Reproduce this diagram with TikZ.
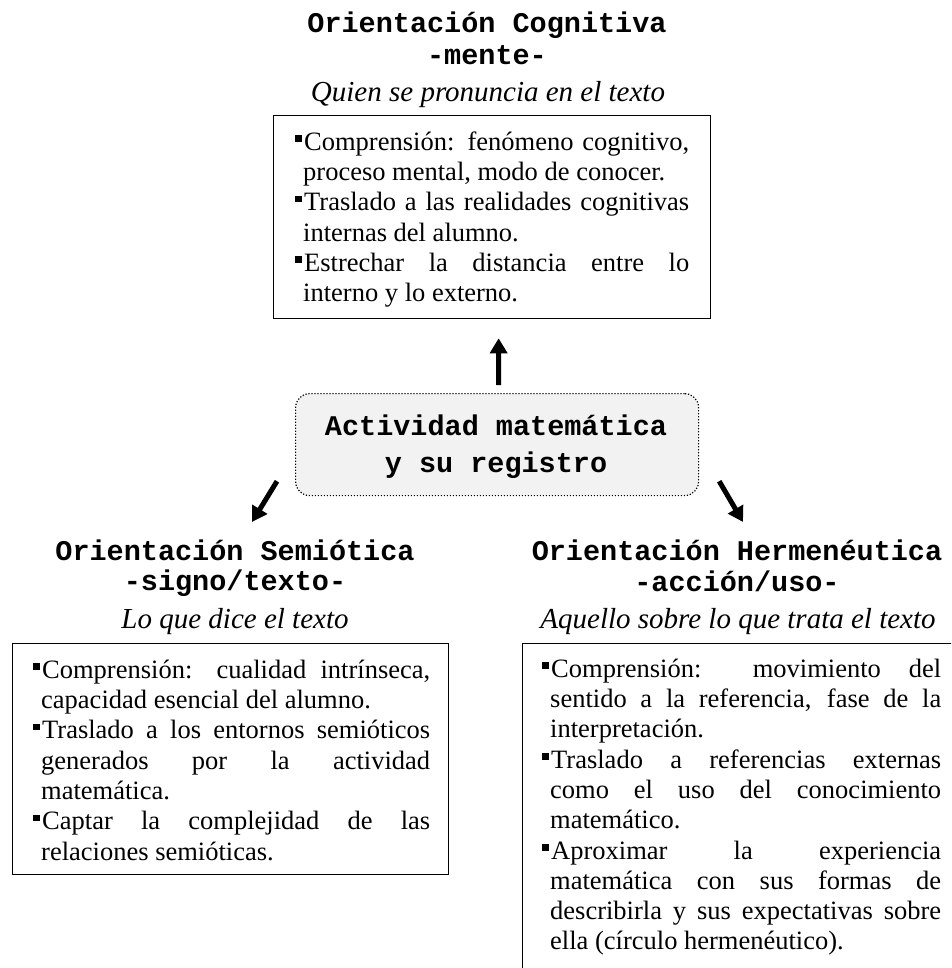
\documentclass[tikz,border=0pt]{standalone}
\usepackage{fontspec}
\setmainfont{Liberation Serif}
\setmonofont{Liberation Mono}
\usetikzlibrary{arrows.meta,calc}
\setlength\parindent{0pt}
\definecolor{actfill}{RGB}{242,242,242}
\newcommand\bodyfont{\fontsize{26.5pt}{30.3pt}\selectfont\hyphenpenalty=10000\exhyphenpenalty=10000\tolerance=10000\emergencystretch=20pt}
\newcommand\itm{\noindent\hspace*{-8pt}\makebox[9pt][l]{\rule[8.5pt]{6.5pt}{6.5pt}}\strut}
\tikzset{
 ttl/.style={font=\fontsize{28.5pt}{32pt}\selectfont\ttfamily\bfseries, anchor=base, inner sep=0pt},
 sub/.style={font=\fontsize{29pt}{32pt}\selectfont\itshape, anchor=base, inner sep=0pt},
 boxframe/.style={draw, line width=1.3pt, anchor=north west, inner sep=0pt},
 bodytext/.style={font=\bodyfont, anchor=north west, inner sep=0pt, text width=386pt, align=justify},
 arr/.style={line width=5pt, -{Triangle[length=15pt,width=17pt]}},
}
\begin{document}
\begin{tikzpicture}[x=1pt,y=-1pt]
\useasboundingbox (0,0) rectangle (951,968);
\clip (0,0) rectangle (951,968);

% top group
\node[ttl] (cogt1) at (487,33) {Orientación Cognitiva};
\node[ttl] (cogt2) at (487,65) {-mente-};
\node[sub] (cogt3) at (488,102) {Quien se pronuncia en el texto};
\node[boxframe, minimum width=437pt, minimum height=203pt] (cogbox) at (273,115) {};
\node[bodytext] (cogtext) at (303,128.8) {%
\itm Comprensión: fenómeno cognitivo,\linebreak proceso mental, modo de conocer.\par
\itm Traslado a las realidades cognitivas\linebreak internas del alumno.\par
\itm Estrechar la distancia entre lo\linebreak interno y lo externo.};

% central box
\node[draw, line width=1.2pt, dash pattern=on 1.2pt off 1.8pt, rounded corners=14pt, fill=actfill,
      minimum width=403pt, minimum height=102pt, anchor=north west, inner sep=0pt] (act) at (295,393) {};
\node[ttl] (acta) at (496,435) {Actividad matemática};
\node[ttl] (actb) at (496,472) {y su registro};

% left group
\node[ttl] (semt1) at (235,560) {Orientación Semiótica};
\node[ttl] (semt2) at (235,590) {-signo/texto-};
\node[sub] (semt3) at (235,628) {Lo que dice el texto};
\node[boxframe, minimum width=436pt, minimum height=231pt] (sembox) at (12,643) {};
\node[bodytext, text width=389pt] (semtext) at (41,656.8) {%
\itm Comprensión: cualidad intrínseca,\linebreak capacidad esencial del alumno.\par
\itm Traslado a los entornos semióticos\linebreak generados por la actividad\linebreak matemática.\par
\itm Captar la complejidad de las\linebreak relaciones semióticas.};

% right group
\node[ttl] (hert1) at (737,560) {Orientación Hermenéutica};
\node[ttl] (hert2) at (737,591) {-acción/uso-};
\node[sub] (hert3) at (738,628) {Aquello sobre lo que trata el texto};
\node[boxframe, minimum width=438pt, minimum height=360pt] (herbox) at (522,643) {};
\node[bodytext, text width=391pt] (hertext) at (550,655.8) {%
\itm Comprensión: movimiento del\linebreak sentido a la referencia, fase de la\linebreak interpretación.\par
\itm Traslado a referencias externas\linebreak como el uso del conocimiento\linebreak matemático.\par
\itm Aproximar la experiencia\linebreak matemática con sus formas de\linebreak describirla y sus expectativas sobre\linebreak ella (círculo hermenéutico).};

% arrows
\coordinate (ltip) at (252,522);
\coordinate (rtip) at (743,522);
\draw[arr] ([xshift=1.5pt,yshift=8pt]act.north) -- ([xshift=6.5pt,yshift=-19pt]cogbox.south);
\draw[arr] ([xshift=-18pt,yshift=15pt]act.south west) -- (ltip);
\draw[arr] ([xshift=20pt,yshift=15pt]act.south east) -- (rtip);
\end{tikzpicture}
\end{document}
